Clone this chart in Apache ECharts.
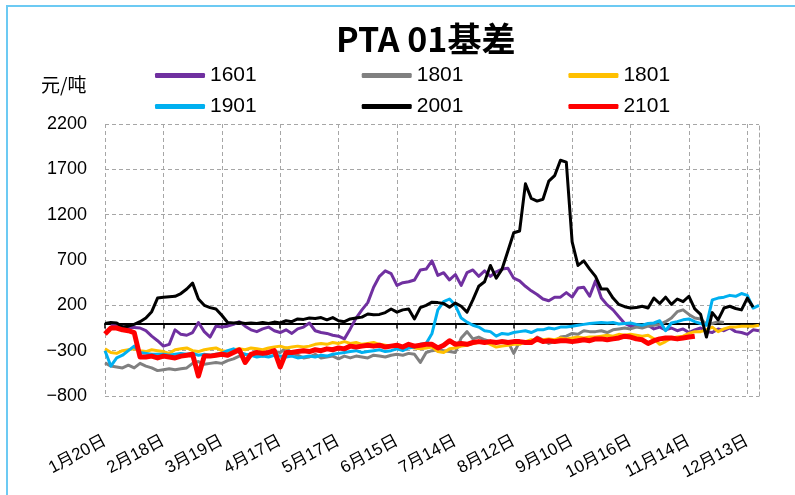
<!DOCTYPE html>
<html>
<head>
<meta charset="utf-8">
<title>PTA 01基差</title>
<script src="https://cdn.jsdelivr.net/npm/echarts/dist/echarts.min.js"></script>
<style>
  html, body { margin: 0; background: #fff; }
  #main { width: 795px; height: 495px; }
</style>
</head>
<body>
<div id="main"></div>
<script>
// 横轴每 10 个点一个刻度
var tickLabels = ['1月20日', '2月18日', '3月19日', '4月17日', '5月17日', '6月15日',
  '7月14日', '8月12日', '9月10日', '10月16日', '11月14日', '12月13日'];
var categories = [];
for (var i = 0; i < 113; i++) {
  categories.push(i % 10 === 0 ? tickLabels[i / 10] : String(i));
}

var s1601 = [null, -10, -20, -35, -45, -45, -50, -80, -140, -190,
  -250, -230, -70, -120, -130, -100, 10, -90, -150, -30,
  -40, -30, -10, 20, -30, -70, -90, -60, -40, -80,
  -100, -70, -110, -60, -40, 5, -80, -100, -110, -130,
  -140, -170, -60, 60, 150, 230, 400, 520, 580, 550,
  420, 450, 460, 480, 590, 600, 690, 530, 560, 480,
  540, 420, 560, 590, 520, 580, 520, 570, 600, 610,
  500, 470, 410, 360, 320, 270, 250, 290, 290, 340,
  290, 390, 400, 300, 470, 280, 205, 150, 75, 0,
  -30, -15, -35, -20, -60, -40, -70, -50, -80, -60,
  -100, -70, -50, -90, -100, -60, -80, -50, -90, -100,
  -120, -70, -80];
var s1801a = [-435, -470, -480, -490, -460, -490, -440, -470, -490, -520,
  -510, -500, -510, -500, -490, -440, -420, -450, -440, -430,
  -440, -410, -390, -360, -340, -350, -340, -360, -330, -310,
  -320, -270, -330, -350, -380, -370, -340, -380, -370, -360,
  -390, -360, -380, -360, -370, -380, -350, -360, -370, -350,
  -340, -350, -330, -340, -430, -320, -300, -290, -300, -310,
  -320, -160, -90, -170, -150, -180, -200, -210, -190, -200,
  -330, -200, -220, -210, -150, -180, -220, -200, -150, -140,
  -110, -120, -80, -90, -90, -80, -100, -70, -60, -50,
  -60, -40, -50, -30, -20, -10, 20, 60, 130, 150,
  100, 60, 50, -10, 0, 20, 10];
var s1801b = [-280, -320, -330, -300, -290, -280, -300, -310, -290, -300,
  -310, -330, -290, -280, -270, -300, -310, -290, -280, -270,
  -300, -310, -290, -280, -290, -270, -280, -290, -270, -260,
  -250, -270, -260, -250, -260, -250, -230, -220, -230, -210,
  -220, -200, -220, -210, -230, -220, -210, -230, -240, -250,
  -260, -280, -260, -270, -280, -270, -260, -310, -320, -280,
  -270, -250, -240, -220, -210, -200, -230, -260, -250, -240,
  -230, -230, -200, -180, -190, -180, -170, -180, -160, -170,
  -160, -150, -160, -150, -150, -140, -130, -140, -120, -130,
  -120, -130, -140, -130, -170, -230, -200, -160, -150, -140,
  -110, -90, -90, -70, -40, -90, -60, -40, -40, -30,
  -30, -30, -20];
var s1901 = [-300, -470, -380, -350, -300, -250, -320, -330, -340, -340,
  -340, -350, -340, -330, -340, -330, -350, -340, -350, -340,
  -330, -300, -280, -320, -340, -350, -370, -360, -370, -350,
  -360, -370, -360, -380, -370, -360, -370, -350, -360, -340,
  -330, -320, -310, -300, -320, -310, -300, -290, -310, -300,
  -280, -300, -270, -260, -230, -220, -110, 150, 240, 270,
  200, 60, 15, -20, -40, -80, -90, -140, -110, -120,
  -100, -90, -80, -100, -70, -70, -50, -60, -40, -40,
  -30, -20, -10, 0, 5, 10, 5, 10, -5, 0,
  5, -10, -20, 0, 5, 30, -80, 5, 20, 40,
  50, 20, 0, -20, 260, 280, 290, 310, 300, 330,
  310, 170, 200];
var s2001 = [0, 10, 5, -40, -30, -10, 20, 60, 130, 280,
  290, 295, 300, 330, 380, 445, 270, 200, 175, 160,
  90, 10, 5, 10, 0, 5, 0, 10, 0, 15,
  5, 30, 20, 50, 45, 60, 55, 65, 40, 65,
  30, 20, 50, 60, 70, 105, 95, 100, 120, 160,
  125, 150, 160, 50, 175, 200, 235, 230, 220, 180,
  225, 190, 125, 260, 410, 460, 640, 500, 600, 800,
  1000, 1020, 1540, 1380, 1350, 1370, 1570, 1630, 1800, 1780,
  900, 640, 690, 600, 520, 380, 380, 280, 210, 185,
  170, 175, 190, 170, 280, 220, 290, 210, 270, 240,
  300, 160, 100, -150, 120, 40, 170, 190, 165, 150,
  280, 180, null];
var s2101 = [-115, -50, -50, -70, -80, -100, -370, -370, -360, -380,
  -360, -370, -380, -360, -350, -340, -580, -360, -360, -350,
  -340, -350, -320, -290, -430, -340, -320, -330, -320, -300,
  -480, -320, -320, -310, -300, -310, -290, -300, -280, -290,
  -270, -280, -250, -260, -250, -240, -250, -240, -260, -250,
  -240, -260, -230, -250, -240, -230, -230, -270, -240, -190,
  -230, -220, -230, -210, -200, -210, -200, -210, -200, -210,
  -200, -200, -210, -210, -170, -200, -190, -200, -190, -190,
  -200, -190, -180, -190, -170, -170, -180, -170, -160, -140,
  -150, -170, -180, -220, -190, -170, -160, -160, -170, -160,
  -150, -140];

var chart = echarts.init(document.getElementById('main'));
var dash = [4, 3];
var gridColor = '#a6a6a6';

function line(name, data, color, width) {
  return {
    name: name, type: 'line', data: data, color: color,
    showSymbol: false, symbol: 'none', connectNulls: false,
    lineStyle: { width: width, color: color, join: 'round' }
  };
}

var legendBase = {
  left: 155, padding: 0, itemWidth: 50, itemHeight: 5, itemGap: 105,
  icon: 'roundRect', selectedMode: false,
  textStyle: { fontFamily: 'Liberation Sans', fontSize: 21, color: '#000', width: 50 }
};

var option = {
  animation: false,
  backgroundColor: '#fff',
  title: {
    text: 'PTA 01基差', left: 331, top: 17,
    textStyle: { fontFamily: 'Noto Sans CJK SC', fontWeight: 'bold', fontSize: 34, color: '#000' }
  },
  legend: [
    Object.assign({}, legendBase, { top: 65, data: ['1601', '1801', '1801 '] }),
    Object.assign({}, legendBase, { top: 96, data: ['1901', '2001', '2101'] })
  ],
  graphic: [
    { type: 'rect', silent: true, shape: { x: 7, y: 6, width: 800, height: 500 },
      style: { fill: 'none', stroke: '#6ccaf3', lineWidth: 2 } },
    { type: 'text', x: 41, y: 85, silent: true,
      style: { text: '元/吨', fill: '#000', font: '19px "Noto Sans CJK SC"', verticalAlign: 'middle' } }
  ],
  grid: { left: 105, right: 36, top: 124, bottom: 99 },
  xAxis: [
    {
      type: 'category', data: categories, boundaryGap: false, position: 'bottom',
      axisLine: { onZero: true, lineStyle: { color: '#000', width: 2 } },
      axisTick: { show: true, interval: 9, length: 5, lineStyle: { color: '#000', width: 1.5 } },
      axisLabel: { show: false },
      splitLine: { show: true, interval: 9, lineStyle: { color: gridColor, type: dash, width: 1 } }
    },
    {
      type: 'category', data: categories, boundaryGap: false, position: 'bottom',
      axisLine: { show: false, onZero: false }, axisTick: { show: false }, splitLine: { show: false },
      axisLabel: {
        interval: 9, rotate: 28, margin: 44,
        fontFamily: 'Liberation Sans, Noto Sans CJK SC', fontSize: 17, color: '#000'
      }
    }
  ],
  yAxis: [
    {
      type: 'value', min: -800, max: 2200, interval: 500,
      axisLine: { show: false }, axisTick: { show: false },
      axisLabel: {
        margin: 18, fontFamily: 'Liberation Sans', fontSize: 18, color: '#000',
        formatter: function (v) { return String(v).replace('-', '\u2212'); }
      },
      splitLine: { show: true, lineStyle: { color: gridColor, type: dash, width: 1 } }
    },
    {
      type: 'value', min: -800, max: 2200, interval: 500, position: 'right',
      axisLine: { show: true, lineStyle: { color: gridColor, type: dash, width: 1 } },
      axisTick: { show: false }, axisLabel: { show: false }, splitLine: { show: false }
    }
  ],
  series: [
    line('1601', s1601, '#7030a0', 3),
    line('1801', s1801a, '#808080', 3),
    line('1801 ', s1801b, '#ffc000', 3),
    line('1901', s1901, '#00b0f0', 3),
    line('2001', s2001, '#000000', 3),
    line('2101', s2101, '#ff0000', 5)
  ]
};
chart.setOption(option);
</script>
</body>
</html>
